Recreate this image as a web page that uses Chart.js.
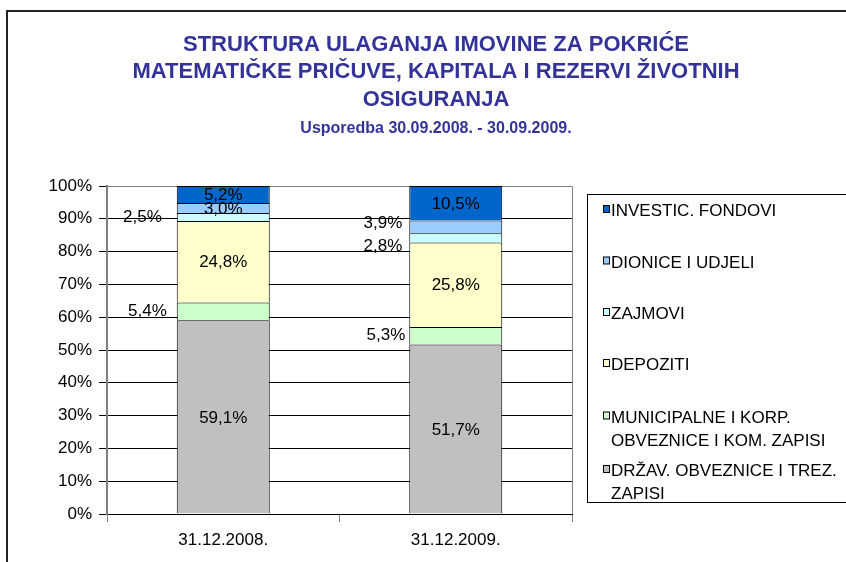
<!DOCTYPE html>
<html>
<head>
<meta charset="utf-8">
<script src="https://cdn.jsdelivr.net/npm/chart.js@4/dist/chart.umd.min.js"></script>
<style>
  html, body { margin: 0; padding: 0; background: #fff; overflow: hidden; }
  #frame { position: absolute; left: 6px; top: 10px; width: 1000px; height: 700px;
           border-left: 2px solid #222; border-top: 2px solid #222; }
  #wrap { position: absolute; left: 0; top: 0; width: 872px; height: 562px; }
</style>
</head>
<body>
<div id="frame"></div>
<div id="wrap"><canvas id="chart" width="872" height="562"></canvas></div>
<script>
// Data
const categories = ['31.12.2008.', '31.12.2009.'];
const drzavObveznice = [59.1, 51.7];
const municipalne = [5.4, 5.3];
const depoziti = [24.8, 25.8];
const zajmovi = [2.5, 2.8];
const dionice = [3.0, 3.9];
const investFondovi = [5.2, 10.5];
const yTicks = [0, 10, 20, 30, 40, 50, 60, 70, 80, 90, 100];

const seriesNames = [
    'DRŽAV. OBVEZNICE I TREZ.\nZAPISI',
    'MUNICIPALNE I KORP.\nOBVEZNICE I KOM. ZAPISI',
    'DEPOZITI',
    'ZAJMOVI',
    'DIONICE I UDJELI',
    'INVESTIC. FONDOVI'
];
const seriesColors = ['#C0C0C0', '#CCFFCC', '#FFFFCC', '#CCFFFF', '#99CCFF', '#0066CC'];

const FONT = '"Liberation Sans", Arial, sans-serif';
const fmt = v => v.toFixed(1).replace('.', ',') + '%';

// Title drawn by hand so it can sit where the original had it
const titlePlugin = {
    id: 'titleText',
    afterDraw(chart) {
        const ctx = chart.ctx;
        ctx.save();
        ctx.fillStyle = '#333399';
        ctx.textAlign = 'center';
        ctx.textBaseline = 'alphabetic';
        ctx.font = 'bold 22px ' + FONT;
        ctx.fillText('STRUKTURA ULAGANJA IMOVINE ZA POKRIĆE', 436, 51);
        ctx.fillText('MATEMATIČKE PRIČUVE, KAPITALA I REZERVI ŽIVOTNIH', 436, 78);
        ctx.fillText('OSIGURANJA', 436, 106);
        ctx.font = 'bold 16px ' + FONT;
        ctx.fillText('Usporedba 30.09.2008. - 30.09.2009.', 436, 133);
        ctx.restore();
    }
};

// Plot area frame in grey
const plotFrame = {
    id: 'plotFrame',
    beforeDatasetsDraw(chart) {
        const a = chart.chartArea, ctx = chart.ctx;
        ctx.save();
        ctx.strokeStyle = '#808080';
        ctx.lineWidth = 1;
        ctx.beginPath();
        ctx.moveTo(a.left, a.top + 0.5);
        ctx.lineTo(a.right + 0.5, a.top + 0.5);
        ctx.lineTo(a.right + 0.5, a.bottom);
        ctx.stroke();
        ctx.restore();
    }
};

// Value labels; a few small ones sit left of the bar like in the original
const outsideLabels = [
    [1, 0, -10, 0], [3, 0, -15, 0],
    [1, 1, -4, 0], [3, 1, -7, 8], [4, 1, -7, -4]
];
const valueLabels = {
    id: 'valueLabels',
    afterDatasetsDraw(chart) {
        const ctx = chart.ctx;
        ctx.save();
        ctx.font = '17px ' + FONT;
        ctx.fillStyle = '#000';
        ctx.textBaseline = 'middle';
        chart.data.datasets.forEach((ds, di) => {
            chart.getDatasetMeta(di).data.forEach((el, i) => {
                const midY = (el.y + el.base) / 2;
                const out = outsideLabels.find(o => o[0] === di && o[1] === i);
                if (out) {
                    ctx.textAlign = 'right';
                    ctx.fillText(fmt(ds.data[i]), el.x - el.width / 2 + out[2], midY + out[3]);
                } else {
                    ctx.textAlign = 'center';
                    ctx.fillText(fmt(ds.data[i]), el.x, midY + 1);
                }
            });
        });
        ctx.restore();
    }
};

// Legend box on the right, top series first
const legendBox = {
    id: 'legendBox',
    afterDraw(chart) {
        const ctx = chart.ctx;
        ctx.save();
        ctx.strokeStyle = '#000';
        ctx.lineWidth = 1;
        ctx.strokeRect(587.5, 194.5, 400, 308);
        ctx.font = '17px ' + FONT;
        ctx.textAlign = 'left';
        ctx.textBaseline = 'alphabetic';
        const baselines = [216, 267.5, 319, 370, 422.5, 476];
        const n = chart.data.datasets.length;
        for (let k = 0; k < n; k++) {
            const ds = chart.data.datasets[n - 1 - k];
            const by = baselines[k];
            ctx.fillStyle = ds.backgroundColor;
            ctx.fillRect(603.5, by - 10.5, 6, 7);
            ctx.strokeRect(603.5, by - 10.5, 6, 7);
            ctx.fillStyle = '#000';
            ds.label.split('\n').forEach((line, j) => {
                ctx.fillText(line, 611, by + j * 23);
            });
        }
        ctx.restore();
    }
};

const datasets = [drzavObveznice, municipalne, depoziti, zajmovi, dionice, investFondovi].map((d, i) => ({
    label: seriesNames[i],
    data: d,
    backgroundColor: seriesColors[i],
    borderColor: '#000',
    borderWidth: 1,
    borderSkipped: 'start',
    inflateAmount: 0,
    barPercentage: 0.4,
    categoryPercentage: 1.0
}));

new Chart(document.getElementById('chart').getContext('2d'), {
    type: 'bar',
    data: { labels: categories, datasets: datasets },
    options: {
        responsive: false,
        animation: false,
        layout: { padding: { top: 186, right: 300, bottom: 0, left: 0 } },
        plugins: {
            legend: { display: false },
            title: { display: false },
            tooltip: { enabled: false }
        },
        scales: {
            x: {
                stacked: true,
                afterFit: s => { s.height = 48; },
                grid: { offset: true, drawOnChartArea: false, tickLength: 8, color: '#808080' },
                border: { color: '#000', width: 1 },
                ticks: { color: '#000', padding: 8, font: { family: FONT, size: 17 } }
            },
            y: {
                stacked: true,
                min: 0,
                max: 100,
                afterFit: s => { s.width = 107; },
                afterBuildTicks: s => { s.ticks = yTicks.map(v => ({ value: v })); },
                grid: { color: '#000', tickLength: 8 },
                border: { color: '#808080', width: 2 },
                ticks: {
                    color: '#000', padding: 7,
                    font: { family: FONT, size: 17 },
                    callback: v => v + '%'
                }
            }
        }
    },
    plugins: [titlePlugin, plotFrame, valueLabels, legendBox]
});
</script>
</body>
</html>
